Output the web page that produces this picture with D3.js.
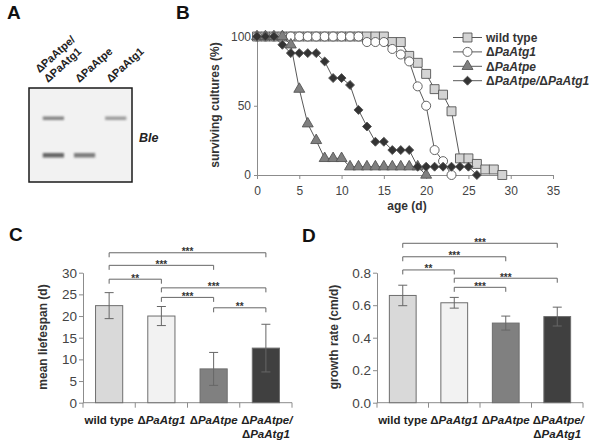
<!DOCTYPE html>
<html>
<head>
<meta charset="utf-8">
<script src="https://cdn.jsdelivr.net/npm/d3@7"></script>
<style>
  body { margin: 0; background: #fff; }
  svg { display: block; font-family: "Liberation Sans", Arial, sans-serif; }
</style>
</head>
<body>
<svg id="fig" width="591" height="448"></svg>
<script>
// ---- panel A: gel ----
const gelLanes = ["double", "atpe", "atg1"];
const gelLabels = [["\u0394PaAtpe/", "\u0394PaAtg1"], ["\u0394PaAtpe"], ["\u0394PaAtg1"]];
const gelBands = [
  { lane: "double", band: "upper", intensity: 0.7 },
  { lane: "double", band: "lower", intensity: 0.9 },
  { lane: "atpe", band: "lower", intensity: 0.75 },
  { lane: "atg1", band: "upper", intensity: 0.55 },
];

// ---- panel B: survival curves ----
const ages = [0, 1, 2, 3, 4, 5, 6, 7, 8, 9, 10, 11, 12, 13, 14, 15, 16, 17, 18, 19, 20, 21, 22, 23, 24, 25, 26, 27, 28, 29];
const wildTypeSurvival = [100, 100, 100, 100, 100, 100, 100, 100, 100, 100, 100, 100, 100, 100, 100, 100, 96, 96, 86, 81, 73, 62, 58, 46, 12, 12, 8, 4, 4, 0];
const atg1Survival = [100, 100, 100, 100, 100, 100, 100, 100, 100, 100, 100, 100, 100, 96, 96, 96, 91, 87, 82, 64, 50, 18, 10, 0];
const atpeSurvival = [100, 100, 100, 100, 94, 62, 37, 25, 12, 12, 12, 6, 6, 6, 6, 6, 6, 6, 6, 6, 0];
const doubleSurvival = [100, 100, 100, 94, 88, 88, 88, 88, 82, 70, 70, 65, 47, 35, 24, 24, 18, 18, 18, 6, 6, 6, 6, 6, 6, 6, 0];
const seriesNames = ["wild type", "\u0394PaAtg1", "\u0394PaAtpe", "\u0394PaAtpe/\u0394PaAtg1"];
const ageTicks = [0, 5, 10, 15, 20, 25, 30, 35];
const survivalTicks = [0, 50, 100];

// ---- panels C and D: bars ----
const strains = ["wild type", "\u0394PaAtg1", "\u0394PaAtpe", "\u0394PaAtpe/\u0394PaAtg1"];
const lifespanMean = [22.4, 20.0, 7.8, 12.6];
const lifespanSd = [3.0, 2.2, 3.8, 5.5];
const lifespanTicks = [0, 5, 10, 15, 20, 25, 30];
const growthMean = [0.66, 0.615, 0.49, 0.53];
const growthSd = [0.063, 0.033, 0.043, 0.058];
const growthTicks = [0, 0.2, 0.4, 0.6, 0.8];
// significance brackets: pair of strain indexes, stars, height in axis units
const lifespanSig = [
  { a: 0, b: 3, stars: "***", at: 34.6 },
  { a: 0, b: 2, stars: "***", at: 31.7 },
  { a: 0, b: 1, stars: "**", at: 28.5 },
  { a: 1, b: 3, stars: "***", at: 26.5 },
  { a: 1, b: 2, stars: "***", at: 24.3 },
  { a: 2, b: 3, stars: "**", at: 21.9 },
];
const growthSig = [
  { a: 0, b: 3, stars: "***", at: 0.981 },
  { a: 0, b: 2, stars: "***", at: 0.898 },
  { a: 0, b: 1, stars: "**", at: 0.817 },
  { a: 1, b: 3, stars: "***", at: 0.766 },
  { a: 1, b: 2, stars: "***", at: 0.71 },
];

const svg = d3.select("#fig");
const axisColor = "#8c8c8c";
const textColor = "#333";

// italic gene names, upright delta
const writeName = (sel, name) => {
  name.split("\u0394").forEach((part, i) => {
    if (i > 0) sel.append("tspan").style("font-style", "normal").text("\u0394");
    if (part) sel.append("tspan").style("font-style", part === "wild type" ? "normal" : "italic").text(part);
  });
};

// panel letters
const letters = [
  { t: "A", x: 7, y: 19 },
  { t: "B", x: 176, y: 19 },
  { t: "C", x: 9, y: 241 },
  { t: "D", x: 302, y: 242 },
];
svg
  .selectAll(".letter")
  .data(letters)
  .enter()
  .append("text")
  .attr("class", "letter")
  .attr("x", (d) => d.x)
  .attr("y", (d) => d.y)
  .style("font-size", "19px")
  .style("font-weight", "bold")
  .style("fill", "#111")
  .text((d) => d.t);

// ================= Panel A =================
const drawGel = () => {
  const g = svg.append("g");
  const defs = svg.append("defs");
  defs
    .append("filter")
    .attr("id", "blur")
    .attr("x", "-20%")
    .attr("y", "-100%")
    .attr("width", "140%")
    .attr("height", "300%")
    .append("feGaussianBlur")
    .attr("stdDeviation", "1 0.9");

  const box = { x: 29, y: 88, w: 103, h: 94 };
  g.append("rect")
    .attr("x", box.x)
    .attr("y", box.y)
    .attr("width", box.w)
    .attr("height", box.h)
    .attr("fill", "#f2f2f2")
    .attr("stroke", "#1a1a1a")
    .attr("stroke-width", 1.5);

  const lane = d3.scaleBand().domain(gelLanes).range([37.5, 131]);
  const bandY = d3.scalePoint().domain(["upper", "lower"]).range([118.5, 155]);

  g.selectAll(".band")
    .data(gelBands)
    .enter()
    .append("rect")
    .attr("class", "band")
    .attr("x", (d) => lane(d.lane) + lane.bandwidth() * 0.17)
    .attr("y", (d) => bandY(d.band) - 2)
    .attr("width", lane.bandwidth() * 0.68)
    .attr("height", (d) => (d.band === "lower" ? 4.5 : 3.5))
    .attr("fill", "#555")
    .attr("opacity", (d) => d.intensity)
    .attr("filter", "url(#blur)");

  gelLanes.forEach((l, i) => {
    const cx = lane(l) + lane.bandwidth() / 2;
    const t = g
      .append("text")
      .attr("transform", `translate(${cx - 5}, 83) rotate(-42)`)
      .style("font-size", "11px")
      .style("font-weight", "bold")
      .style("fill", "#222");
    const lines = gelLabels[i];
    lines.forEach((line, j) => {
      t.append("tspan")
        .attr("x", 0)
        .attr("y", (j - lines.length + 1) * 13)
        .text(line);
    });
  });

  g.append("text")
    .attr("x", 139)
    .attr("y", 142)
    .style("font-size", "12.5px")
    .style("font-style", "italic")
    .style("font-weight", "bold")
    .style("fill", "#222")
    .text("Ble");
};

// ================= Panel B =================
const drawSurvival = () => {
  const g = svg.append("g");
  const x = d3.scaleLinear().domain([0, 35]).range([257, 553]);
  const y = d3.scaleLinear().domain([0, 100]).range([175, 36.5]);

  const styles = [
    { sym: d3.symbolSquare, size: 80, fill: "#d4d4d4", rot: 0 },
    { sym: d3.symbolCircle, size: 64, fill: "#ffffff", rot: 0 },
    { sym: d3.symbolTriangle, size: 52, fill: "#7f7f7f", rot: 0 },
    { sym: d3.symbolSquare, size: 40, fill: "#333333", rot: 45 },
  ];
  const allSeries = [wildTypeSurvival, atg1Survival, atpeSurvival, doubleSurvival];

  // axes
  const xAxis = g
    .append("g")
    .attr("transform", `translate(0, ${y(0)})`)
    .call(d3.axisBottom(x).tickValues(ageTicks).tickSize(4).tickSizeOuter(0));
  const yAxis = g
    .append("g")
    .attr("transform", `translate(${x(0)}, 0)`)
    .call(d3.axisLeft(y).tickValues(survivalTicks).tickSize(3).tickSizeOuter(0));
  [xAxis, yAxis].forEach((a) => {
    a.selectAll("path, line").attr("stroke", axisColor);
    a.selectAll("text").style("font-size", "12px").style("fill", "#444");
  });
  xAxis.selectAll("text").attr("dy", "1.05em");
  yAxis.selectAll("text").attr("x", -6);

  g.append("text")
    .attr("x", 407)
    .attr("y", 210)
    .attr("text-anchor", "middle")
    .style("font-size", "12px")
    .style("font-weight", "bold")
    .style("fill", textColor)
    .text("age (d)");
  g.append("text")
    .attr("transform", `translate(219, 105) rotate(-90)`)
    .attr("text-anchor", "middle")
    .style("font-size", "12px")
    .style("font-weight", "bold")
    .style("fill", textColor)
    .text("surviving cultures (%)");

  const line = d3
    .line()
    .x((d, i) => x(ages[i]))
    .y((d) => y(d));

  allSeries.forEach((values, k) => {
    const st = styles[k];
    g.append("path")
      .datum(values)
      .attr("d", line)
      .attr("fill", "none")
      .attr("stroke", "#595959")
      .attr("stroke-width", 1);
    g.selectAll(`.m${k}`)
      .data(values)
      .enter()
      .append("path")
      .attr("class", `m${k}`)
      .attr("d", d3.symbol(st.sym, st.size))
      .attr("transform", (d, i) => `translate(${x(ages[i])}, ${y(d)}) rotate(${st.rot})`)
      .attr("fill", st.fill)
      .attr("stroke", "#555")
      .attr("stroke-width", 0.9);
  });

  // legend
  const legend = g
    .selectAll(".leg")
    .data(seriesNames)
    .enter()
    .append("g")
    .attr("class", "leg")
    .attr("transform", (d, i) => `translate(453, ${37.5 + i * 14.4})`);
  legend
    .append("line")
    .attr("x1", 0)
    .attr("x2", 29)
    .attr("stroke", "#595959");
  legend
    .append("path")
    .attr("d", (d, i) => d3.symbol(styles[i].sym, styles[i].size)())
    .attr("transform", (d, i) => `translate(14.5, 0) rotate(${styles[i].rot})`)
    .attr("fill", (d, i) => styles[i].fill)
    .attr("stroke", "#555")
    .attr("stroke-width", 0.9);
  legend
    .append("text")
    .attr("x", 33)
    .attr("y", 4.3)
    .style("font-size", "12px")
    .style("font-weight", "bold")
    .style("fill", textColor)
    .each(function (d) {
      writeName(d3.select(this), d);
    });
};

// ================= Panels C & D =================
const barFills = ["#d9d9d9", "#f2f2f2", "#808080", "#404040"];

const drawBars = (opts) => {
  const g = svg.append("g");
  const x = d3.scaleBand().domain(strains).range(opts.xRange);
  const y = d3.scaleLinear().domain(opts.yDomain).range([402.7, 272.7]);
  const cx = (i) => x(strains[i]) + x.bandwidth() / 2;
  const barW = x.bandwidth() * 0.52;

  // y axis
  const yAxis = g
    .append("g")
    .attr("transform", `translate(${opts.xRange[0]}, 0)`)
    .call(
      d3.axisLeft(y).tickValues(opts.ticks).tickSize(4).tickSizeOuter(0).tickFormat(opts.format)
    );
  yAxis.selectAll("path, line").attr("stroke", axisColor);
  yAxis.selectAll("text").attr("x", -6).style("font-size", "13.5px").style("fill", "#444");

  // x axis with ticks at band boundaries
  g.append("line")
    .attr("x1", opts.xRange[0])
    .attr("x2", opts.xRange[1])
    .attr("y1", y(0))
    .attr("y2", y(0))
    .attr("stroke", axisColor);
  g.selectAll(".xt")
    .data(strains.concat([null]))
    .enter()
    .append("line")
    .attr("class", "xt")
    .attr("x1", (d) => (d ? x(d) : opts.xRange[1]))
    .attr("x2", (d) => (d ? x(d) : opts.xRange[1]))
    .attr("y1", y(0))
    .attr("y2", y(0) + 5)
    .attr("stroke", axisColor);

  // bars
  g.selectAll(".bar")
    .data(opts.mean)
    .enter()
    .append("rect")
    .attr("class", "bar")
    .attr("x", (d, i) => cx(i) - barW / 2)
    .attr("y", (d) => y(d))
    .attr("width", barW)
    .attr("height", (d) => y(0) - y(d))
    .attr("fill", (d, i) => barFills[i])
    .attr("stroke", "#6e6e6e")
    .attr("stroke-width", 1);

  // error bars
  const err = g
    .selectAll(".err")
    .data(opts.mean)
    .enter()
    .append("g")
    .attr("class", "err")
    .attr("stroke", "#666")
    .attr("stroke-width", 1);
  err
    .append("line")
    .attr("x1", (d, i) => cx(i))
    .attr("x2", (d, i) => cx(i))
    .attr("y1", (d, i) => y(d + opts.sd[i]))
    .attr("y2", (d, i) => y(d - opts.sd[i]));
  [1, -1].forEach((s) => {
    err
      .append("line")
      .attr("x1", (d, i) => cx(i) - 4.5)
      .attr("x2", (d, i) => cx(i) + 4.5)
      .attr("y1", (d, i) => y(d + s * opts.sd[i]))
      .attr("y2", (d, i) => y(d + s * opts.sd[i]));
  });

  // significance brackets
  const br = g
    .selectAll(".sig")
    .data(opts.sig)
    .enter()
    .append("g")
    .attr("class", "sig");
  br.append("path")
    .attr("d", (d) => {
      const yy = y(d.at);
      return `M${cx(d.a)},${yy + 4.5}V${yy}H${cx(d.b)}V${yy + 4.5}`;
    })
    .attr("fill", "none")
    .attr("stroke", "#666")
    .attr("stroke-width", 1);
  br.append("text")
    .attr("x", (d) => (cx(d.a) + cx(d.b)) / 2)
    .attr("y", (d) => y(d.at) + 2.5)
    .attr("text-anchor", "middle")
    .style("font-size", "10px")
    .style("font-weight", "bold")
    .style("fill", "#333")
    .text((d) => d.stars);

  // category labels
  const cat = g
    .selectAll(".cat")
    .data(strains)
    .enter()
    .append("text")
    .attr("class", "cat")
    .attr("text-anchor", "middle")
    .style("font-size", "11.5px")
    .style("font-weight", "bold")
    .style("fill", "#222");
  cat.each(function (d, i) {
    const t = d3.select(this);
    const parts = d.includes("/") ? [d.split("/")[0] + "/", d.split("/")[1]] : [d];
    parts.forEach((p, j) => {
      const ts = t.append("tspan").attr("x", cx(i) + (j === 0 && parts.length > 1 ? 1 : 0)).attr("y", 424 + j * 14);
      writeName(ts, p);
    });
  });

  // y label
  g.append("text")
    .attr("transform", `translate(${opts.labelX}, 337) rotate(-90)`)
    .attr("text-anchor", "middle")
    .style("font-size", "12px")
    .style("font-weight", "bold")
    .style("fill", textColor)
    .text(opts.label);
};

drawGel();
drawSurvival();
drawBars({
  xRange: [83, 292],
  yDomain: [0, 30],
  ticks: lifespanTicks,
  format: d3.format("d"),
  mean: lifespanMean,
  sd: lifespanSd,
  sig: lifespanSig,
  label: "mean liefespan (d)",
  labelX: 47,
});
drawBars({
  xRange: [377, 583],
  yDomain: [0, 0.8],
  ticks: growthTicks,
  format: d3.format(".1f"),
  mean: growthMean,
  sd: growthSd,
  sig: growthSig,
  label: "growth rate (cm/d)",
  labelX: 338,
});
</script>
</body>
</html>
